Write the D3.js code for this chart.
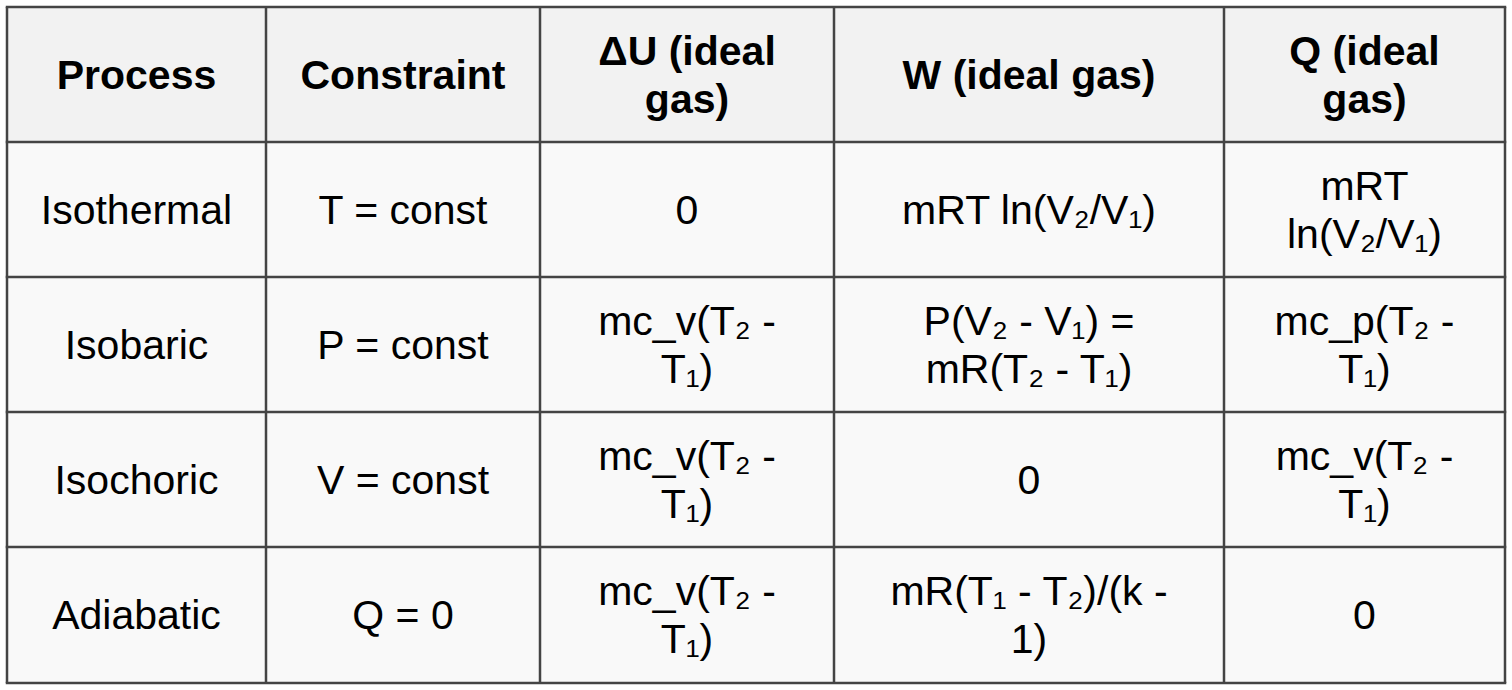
<!DOCTYPE html>
<html>
<head>
<script src="https://cdn.jsdelivr.net/npm/d3@7"></script>
<style>body{margin:0;background:#fff}</style>
</head>
<body>
<svg width="1512" height="690" id="mainsvg"></svg>
<script>
const headers = [["Process"], ["Constraint"], ["ΔU (ideal", "gas)"], ["W (ideal gas)"], ["Q (ideal", "gas)"]];
const rows = [
  [["Isothermal"], ["T = const"], ["0"], ["mRT ln(V₂/V₁)"], ["mRT", "ln(V₂/V₁)"]],
  [["Isobaric"], ["P = const"], ["mc_v(T₂ -", "T₁)"], ["P(V₂ - V₁) =", "mR(T₂ - T₁)"], ["mc_p(T₂ -", "T₁)"]],
  [["Isochoric"], ["V = const"], ["mc_v(T₂ -", "T₁)"], ["0"], ["mc_v(T₂ -", "T₁)"]],
  [["Adiabatic"], ["Q = 0"], ["mc_v(T₂ -", "T₁)"], ["mR(T₁ - T₂)/(k -", "1)"], ["0"]]
];
const colEdges = [7, 266, 540, 834, 1224, 1505];
const rowEdges = [7, 142, 277, 412, 547, 683];

const svg = d3.select('#mainsvg');
const all = [headers, ...rows];

all.forEach((row, r) => {
  row.forEach((lines, c) => {
    const x0 = colEdges[c], x1 = colEdges[c + 1];
    const y0 = rowEdges[r], y1 = rowEdges[r + 1];
    svg.append('rect').attr('x', x0).attr('y', y0)
      .attr('width', x1 - x0).attr('height', y1 - y0)
      .attr('fill', r === 0 ? '#f2f2f2' : '#f9f9f9');
    const lh = 48;
    const cy = (y0 + y1) / 2 - (lines.length - 1) * lh / 2;
    const t = svg.append('text')
      .attr('x', (x0 + x1) / 2).attr('y', cy)
      .attr('text-anchor', 'middle').attr('dominant-baseline', 'central')
      .attr('font-family', 'Liberation Sans, Arial, sans-serif')
      .attr('font-size', 41).attr('font-weight', r === 0 ? 'bold' : 'normal')
      .attr('fill', '#000');
    lines.forEach((ln, i) => t.append('tspan').attr('x', (x0 + x1) / 2).attr('y', cy + i * lh).text(ln));
  });
});

svg.selectAll('.vl').data(colEdges).enter().append('line')
  .attr('x1', d => d).attr('x2', d => d).attr('y1', rowEdges[0]).attr('y2', rowEdges[5])
  .attr('stroke', '#444').attr('stroke-width', 2.5);
svg.selectAll('.hl').data(rowEdges).enter().append('line')
  .attr('y1', d => d).attr('y2', d => d).attr('x1', colEdges[0] - 1.25).attr('x2', colEdges[5] + 1.25)
  .attr('stroke', '#444').attr('stroke-width', 2.5);
</script>
</body>
</html>
